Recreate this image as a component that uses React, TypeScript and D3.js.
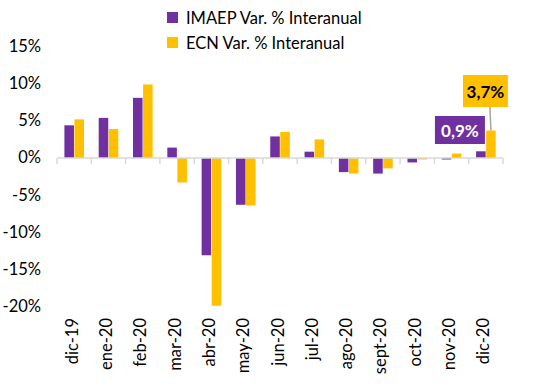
import * as d3 from "d3";

const categories = [
  "dic-19", "ene-20", "feb-20", "mar-20", "abr-20", "may-20", "jun-20",
  "jul-20", "ago-20", "sept-20", "oct-20", "nov-20", "dic-20",
];
const imaep = [4.4, 5.4, 8.1, 1.4, -13.1, -6.3, 2.9, 0.85, -1.9, -2.1, -0.6, -0.2, 0.9];
const ecn = [5.2, 3.9, 9.9, -3.3, -19.9, -6.4, 3.5, 2.5, -2.1, -1.4, -0.2, 0.6, 3.7];
const yTicks = [15, 10, 5, 0, -5, -10, -15, -20];
const seriesNames = ["IMAEP Var. % Interanual", "ECN Var. % Interanual"];
const colors = ["#7030A0", "#FFC000"];

const FONT = "Lato, 'Open Sans', sans-serif";

export default function App() {
  const width = 547;
  const height = 386;
  const x = d3.scaleBand<string>().domain(categories).range([57, 503]);
  const inner = d3.scaleBand<string>().domain(seriesNames).range([7.4, 27]).paddingInner(0.05);
  const y = d3.scaleLinear().domain([-20, 15]).range([306.5, 46.6]);
  const data = [imaep, ecn];
  const fmt = (v: number) => `${v}%`;

  const lastIdx = categories.length - 1;
  const last = categories[lastIdx];
  const ecnX = (x(last) ?? 0) + (inner(seriesNames[1]) ?? 0) + inner.bandwidth() / 2;
  const ecnTop = y(ecn[lastIdx]);

  return (
    <svg width={width} height={height} style={{ position: "absolute", left: 0, top: 0 }} fontFamily={FONT}>
      <rect width={width} height={height} fill="#fff" />
      {/* legend */}
      {seriesNames.map((s, i) => (
        <g key={s} transform={`translate(167,${12 + i * 25})`}>
          <rect width={11} height={11} fill={colors[i]} />
          <text x={19} y={11.5} fontSize={16.5} fill="#000">{s}</text>
        </g>
      ))}
      {/* y axis labels */}
      {yTicks.map((t) => (
        <text key={t} x={41} y={y(t) + 5.5} textAnchor="end" fontSize={16.5} fill="#000">{fmt(t)}</text>
      ))}
      {/* bars */}
      {data.map((vals, si) =>
        vals.map((v, i) => {
          const bx = (x(categories[i]) ?? 0) + (inner(seriesNames[si]) ?? 0);
          return (
            <rect key={`${si}-${i}`} x={bx} width={inner.bandwidth()}
              y={Math.min(y(v), y(0))} height={Math.abs(y(v) - y(0))} fill={colors[si]} />
          );
        })
      )}
      {/* x axis */}
      <line x1={57} x2={503} y1={y(0)} y2={y(0)} stroke="#D9D9D9" strokeWidth={1.5} />
      {categories.concat(["end"]).map((c, i) => {
        const tx = i < categories.length ? (x(c) ?? 0) : 503;
        return <line key={c} x1={tx} x2={tx} y1={y(0)} y2={y(0) + 6} stroke="#D9D9D9" strokeWidth={1.5} />;
      })}
      {categories.map((c) => (
        <text key={c} transform={`translate(${(x(c) ?? 0) + x.bandwidth() / 2 + 3.5},318) rotate(-90)`}
          textAnchor="end" fontSize={16.5} fill="#000">{c}</text>
      ))}
      {/* data labels */}
      <line x1={ecnX - 1} x2={ecnX} y1={107} y2={ecnTop} stroke="#A6A6A6" strokeWidth={1.5} />
      <rect x={ecnX - 28} y={75} width={45} height={32} fill={colors[1]} />
      <text x={ecnX - 5.5} y={98} textAnchor="middle" fontSize={17} fontWeight="bold" fill="#000">3,7%</text>
      <rect x={ecnX - 56} y={116} width={50} height={28} fill={colors[0]} />
      <text x={ecnX - 31} y={137} textAnchor="middle" fontSize={17} fontWeight="bold" fill="#fff">0,9%</text>
    </svg>
  );
}
